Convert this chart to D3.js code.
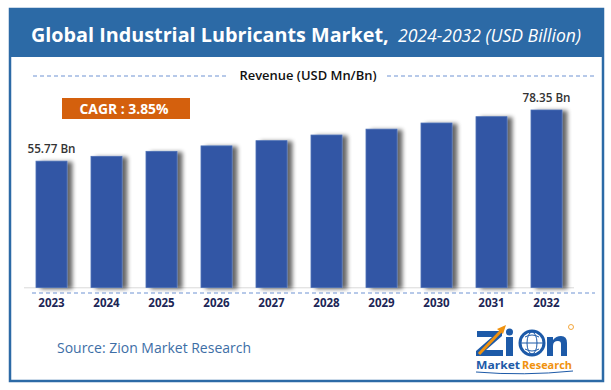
<!DOCTYPE html>
<html><head><meta charset="utf-8">
<script src="https://cdn.jsdelivr.net/npm/d3@7"></script>
<style>
html,body{margin:0;padding:0;background:#fff;}
svg{display:block;}
</style></head>
<body>
<script>
const years = ["2023","2024","2025","2026","2027","2028","2029","2030","2031","2032"];
const revenue = [55.77, 57.9, 60.1, 62.5, 64.8, 67.3, 69.9, 72.6, 75.4, 78.35];
const valueLabels = [{i:0, text:"55.77 Bn"}, {i:9, text:"78.35 Bn"}];
const titleMain = "Global Industrial Lubricants Market,";
const titleSub = "2024-2032 (USD Billion)";
const axisTitle = "Revenue (USD Mn/Bn)";
const cagrText = "CAGR : 3.85%";
const sourceText = "Source: Zion Market Research";

const W = 611, H = 390;
const blue = "#2c6aa6";
const svg = d3.select("body").append("svg").attr("width", W).attr("height", H);
const defs = svg.append("defs");
const f = defs.append("filter").attr("id","sh").attr("x","-20%").attr("y","-10%").attr("width","160%").attr("height","130%");
f.append("feGaussianBlur").attr("in","SourceAlpha").attr("stdDeviation",2).attr("result","b");
f.append("feOffset").attr("in","b").attr("dx",5).attr("dy",1).attr("result","o");
f.append("feComponentTransfer").attr("in","o").attr("result","o2").append("feFuncA").attr("type","linear").attr("slope",0.6);
const fm = f.append("feMerge"); fm.append("feMergeNode").attr("in","o2"); fm.append("feMergeNode").attr("in","SourceGraphic");

// frame
svg.append("rect").attr("x",10).attr("y",9).attr("width",593).attr("height",372)
  .attr("fill","#fff").attr("stroke",blue).attr("stroke-width",2.5);
svg.append("rect").attr("x",10).attr("y",9).attr("width",593).attr("height",48).attr("fill",blue);

const ff = "'Open Sans', 'DejaVu Sans', sans-serif";
function fitText(sel, base, target) {
  sel.attr("font-size", base);
  const w = sel.node().getComputedTextLength();
  if (w > 0) sel.attr("font-size", base * target / w);
  return sel;
}
const t1 = svg.append("text").attr("x",31).attr("y",42).attr("fill","#fff")
  .attr("font-family",ff).attr("font-weight",700).text(titleMain);
fitText(t1, 21, 358);
const t2 = svg.append("text").attr("x",398).attr("y",42).attr("fill","#fff")
  .attr("font-family",ff).attr("font-style","italic").text(titleSub);
fitText(t2, 17, 183);

// revenue header
const dashC = "#6f93d3";
svg.append("line").attr("x1",33).attr("x2",227).attr("y1",76).attr("y2",76)
  .attr("stroke",dashC).attr("stroke-width",1).attr("stroke-dasharray","4,3");
svg.append("line").attr("x1",387).attr("x2",595).attr("y1",76).attr("y2",76)
  .attr("stroke",dashC).attr("stroke-width",1).attr("stroke-dasharray","4,3");
svg.append("text").attr("x",308).attr("y",80).attr("text-anchor","middle")
  .attr("font-family",ff).attr("font-weight",600).attr("font-size",13).attr("fill","#111")
  .attr("textLength",137).attr("lengthAdjust","spacingAndGlyphs").text(axisTitle);

// CAGR
svg.append("rect").attr("x",62).attr("y",98).attr("width",128).attr("height",21).attr("fill","#d4600d");
svg.append("text").attr("x",124).attr("y",113.5).attr("text-anchor","middle")
  .attr("font-family",ff).attr("font-weight",700).attr("font-size",13.5).attr("fill","#fff")
  .attr("textLength",89).attr("lengthAdjust","spacingAndGlyphs").text(cagrText);

// scales
const x = d3.scaleBand().domain(years).range([24,574]).paddingInner(0.436).paddingOuter(0.218);
const y = d3.scaleLinear().domain([0, 78.35]).range([287.5, 110]);

svg.append("line").attr("x1",24).attr("x2",574).attr("y1",287.8).attr("y2",287.8)
  .attr("stroke","#d9d9d9").attr("stroke-width",1);

svg.append("g").selectAll("rect").data(years).join("rect")
  .attr("x", d => x(d)).attr("width", x.bandwidth())
  .attr("y", (d,i) => y(revenue[i])).attr("height", (d,i) => y(0) - y(revenue[i]))
  .attr("fill","#3157a5").attr("stroke","#4d70b6").attr("stroke-width",0.8)
  .attr("filter","url(#sh)");

svg.append("g").selectAll("text").data(valueLabels).join("text")
  .attr("x", d => x(years[d.i]) + x.bandwidth()/2)
  .attr("y", d => y(revenue[d.i]) - 8)
  .attr("text-anchor","middle").attr("font-family",ff).attr("font-weight",600)
  .attr("font-size",12).attr("fill","#333")
  .attr("textLength",48).attr("lengthAdjust","spacingAndGlyphs")
  .text(d => d.text);

// axis
svg.append("line").attr("x1",32).attr("x2",595).attr("y1",293).attr("y2",293)
  .attr("stroke",dashC).attr("stroke-width",1).attr("stroke-dasharray","4,3");
const ax = svg.append("g").attr("transform","translate(0,293)")
  .call(d3.axisBottom(x).tickSize(0).tickPadding(4));
ax.select(".domain").remove();
ax.selectAll("text").attr("font-family",ff).attr("font-weight",700).attr("font-size",11.5)
  .attr("fill","#1c2656").attr("dy","0.78em").attr("y",5.5);

// source
svg.append("text").attr("x",57).attr("y",353).attr("font-family",ff).attr("font-size",14.5)
  .attr("fill","#3d6ea6").attr("textLength",194).attr("lengthAdjust","spacingAndGlyphs").text(sourceText);

// logo
const lg = svg.append("g");
const lb = "#1d5aa8", lo = "#f0920f";
lg.append("path").attr("d","M477,331 L502,331 L502,336 L486,350 L503,350 L503,356 L476,356 L476,351 L492,337 L477,337 Z").attr("fill",lb);
lg.append("rect").attr("x",506).attr("y",337).attr("width",7).attr("height",19).attr("fill",lb);
lg.append("circle").attr("cx",509.5).attr("cy",332).attr("r",3.5).attr("fill",lb);
lg.append("path").attr("d","M479,354 L502,330").attr("stroke",lo).attr("stroke-width",3);
lg.append("path").attr("d","M497,329 L506,325 L503,334 Z").attr("fill",lo);
lg.append("circle").attr("cx",532).attr("cy",343).attr("r",12).attr("fill","#fff").attr("stroke",lb).attr("stroke-width",3);
lg.append("ellipse").attr("cx",532).attr("cy",343).attr("rx",5).attr("ry",11).attr("fill","none").attr("stroke",lb).attr("stroke-width",1);
lg.append("line").attr("x1",521).attr("x2",543).attr("y1",343).attr("y2",343).attr("stroke",lb).attr("stroke-width",1);
lg.append("path").attr("d","M525,337 q7,-4 14,0 M525,349 q7,4 14,0").attr("fill","none").attr("stroke",lb).attr("stroke-width",1);
lg.append("path").attr("d","M547,356 L547,337 L553,337 L553,340 Q556,336 561,336 Q567,336 567,343 L567,356 L561,356 L561,344 Q561,341 558,341 Q553,341 553,346 L553,356 Z").attr("fill",lb);
lg.append("circle").attr("cx",571).attr("cy",327).attr("r",2.5).attr("fill","none").attr("stroke",lo).attr("stroke-width",0.8);
lg.append("text").attr("x",476).attr("y",369).attr("font-family",ff).attr("font-weight",700)
  .attr("font-size",11).attr("fill",lb).attr("textLength",44).attr("lengthAdjust","spacingAndGlyphs").text("Market");
lg.append("text").attr("x",522).attr("y",369).attr("font-family",ff).attr("font-weight",700)
  .attr("font-size",11).attr("fill",lo).attr("textLength",50).attr("lengthAdjust","spacingAndGlyphs").text("Research");
lg.append("path").attr("d","M476,372 Q524,376 573,371").attr("fill","none").attr("stroke",lb).attr("stroke-width",1);
</script>
</body></html>
